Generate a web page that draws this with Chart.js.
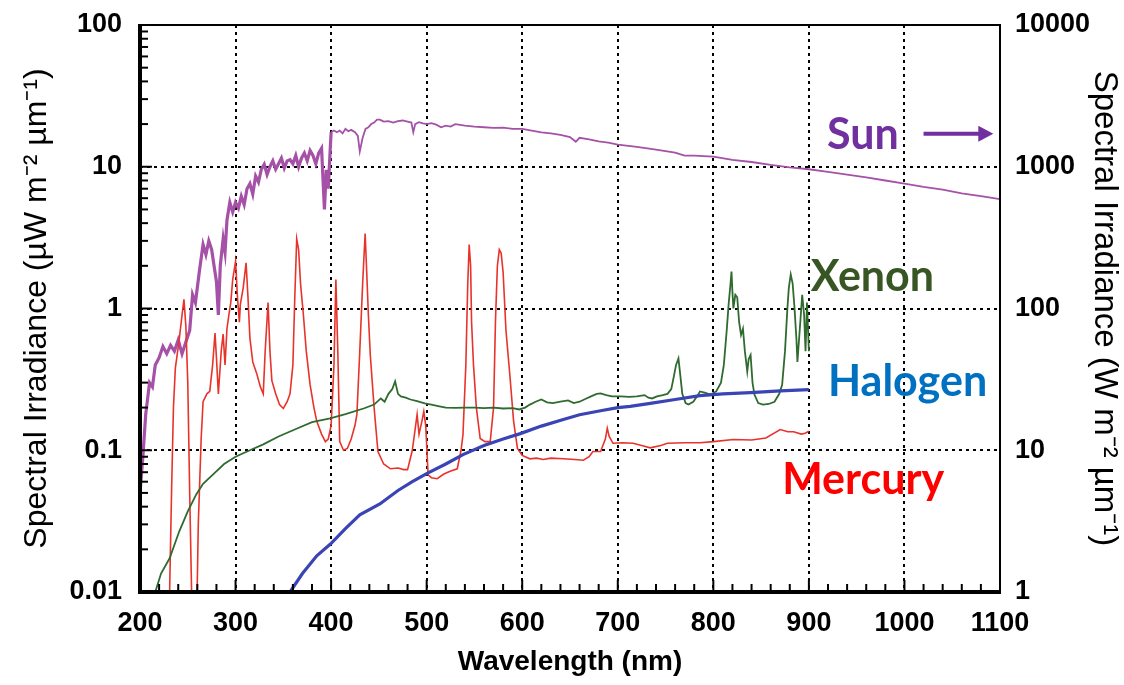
<!DOCTYPE html>
<html>
<head>
<meta charset="UTF-8">
<title>Spectral irradiance</title>
<script src="https://cdn.jsdelivr.net/npm/chart.js@4.4.1/dist/chart.umd.min.js"></script>
<style>
html, body { margin: 0; padding: 0; background: #fff; }
#wrap { width: 1124px; height: 685px; position: relative; }
</style>
</head>
<body>
<div id="wrap"><canvas id="myChart"></canvas></div>
<script>
// axis ticks
const xTickValues = [200, 300, 400, 500, 600, 700, 800, 900, 1000, 1100];
const leftTickValues = [0.01, 0.1, 1, 10, 100];
const leftTickLabels = ['0.01', '0.1', '1', '10', '100'];
const rightTickValues = [1, 10, 100, 1000, 10000];
const rightTickLabels = ['1', '10', '100', '1000', '10000'];

// Sun (right axis, W m-2 um-1)
const sunNm = [200, 203, 206, 210, 213, 216, 220, 224, 228, 232, 236, 240, 244, 248, 252, 255, 258, 262, 266, 269,
  272, 275, 278, 280, 282, 284, 287, 289, 291, 294, 297, 300, 303, 306, 309, 312, 315, 318, 321, 324,
  327, 330, 333, 336, 339, 342, 345, 348, 351, 354, 357, 360, 363, 366, 369, 372, 375, 378, 381, 384,
  387, 390, 393, 395, 397, 399, 400, 403, 406, 409, 412, 415, 418, 421, 425, 428, 430, 433, 436, 439,
  442, 445, 448, 451, 455, 460, 465, 470, 475, 480, 484, 486, 488, 492, 496, 500, 505, 510, 515, 520,
  525, 530, 540, 550, 560, 570, 580, 590, 600, 610, 620, 630, 640, 650, 656, 660, 670, 680, 690, 700,
  720, 740, 760, 770, 780, 800, 820, 840, 860, 880, 900, 920, 940, 960, 980, 1000, 1020, 1040, 1060, 1080, 1100];
const sunVal = [5, 9, 18, 30, 28, 40, 45, 54, 48, 55, 50, 60, 48, 58, 70, 125, 110, 180, 283, 240,
  300, 260, 190, 155, 90, 200, 310, 250, 420, 560, 480, 560, 510, 620, 540, 700, 760, 640, 860, 780,
  960, 1040, 880, 1000, 1100, 960, 1050, 1150, 980, 1100, 1120, 1050, 1200, 1000, 1150, 1250, 1100, 1300, 1200, 1050,
  1250, 1350, 500, 950, 700, 1300, 1750, 1800, 1750, 1800, 1720, 1850, 1780, 1820, 1750, 1650, 1280, 1600, 1850, 1900,
  2000, 2050, 2150, 2150, 2080, 2100, 2050, 2100, 2120, 2080, 2050, 1750, 2000, 2060, 2020, 2000, 2030, 1980, 1900, 1950,
  1920, 2000, 1950, 1920, 1900, 1880, 1890, 1850, 1850, 1800, 1750, 1720, 1680, 1620, 1500, 1600, 1560, 1510, 1480, 1430,
  1380, 1320, 1260, 1200, 1200, 1180, 1120, 1080, 1030, 990, 960, 920, 880, 840, 800, 760, 720, 690, 650, 620, 590];

// Mercury lamp (left axis)
const mercuryNm = [231, 233, 235, 237, 241, 244, 246, 248, 250, 252, 254, 256, 259, 261, 264, 266, 270, 273, 276, 278.5,
  280, 282, 285, 287, 289, 291, 293, 295, 297, 300, 302, 304, 305, 308, 311, 313, 315, 318, 322, 326,
  329, 331, 334, 336, 338, 342, 346, 350, 354, 357, 360, 362, 364, 366, 368, 371, 374, 378, 382, 385,
  390, 394, 397, 400, 403, 405, 407, 409, 413, 417, 421, 425, 427, 430, 433, 435.6, 437, 439, 441, 445,
  449, 455, 462, 470, 476, 480, 485, 490, 492, 495, 497, 499, 501.5, 505, 511, 518, 524.6, 532, 536, 538,
  541, 543, 544.5, 546, 547, 549, 552, 556, 561, 566.5, 570, 572, 574, 576, 578, 580, 583, 587, 591, 595,
  600, 608, 615, 622, 630, 643, 655, 664, 670, 674, 682, 687, 689, 691, 695, 705, 716, 725, 734, 745,
  752, 770, 786, 800, 821, 840, 855, 870, 878, 884, 892, 896, 900];
const mercuryVal = [0.01, 0.05, 0.2, 0.38, 0.6, 0.9, 1.16, 0.75, 0.3, 0.05, 0.01, 0.005, 0.005, 0.03, 0.12, 0.22, 0.25, 0.26, 0.4, 0.67,
  0.45, 0.25, 0.5, 0.66, 0.4, 0.72, 0.9, 1.1, 1.6, 2.15, 1.2, 0.8, 1.07, 1.4, 2.1, 1.2, 0.62, 0.42, 0.35, 0.28,
  0.25, 0.5, 1.1, 0.5, 0.31, 0.25, 0.21, 0.197, 0.22, 0.25, 0.4, 1.2, 3.1, 2.6, 1.5, 0.9, 0.5, 0.29, 0.2, 0.16,
  0.13, 0.115, 0.12, 0.15, 0.4, 1.6, 0.5, 0.115, 0.1, 0.103, 0.12, 0.15, 0.179, 0.5, 1.5, 3.38, 2.0, 0.9, 0.47, 0.2,
  0.098, 0.08, 0.074, 0.075, 0.073, 0.073, 0.1, 0.179, 0.13, 0.16, 0.188, 0.15, 0.067, 0.064, 0.063, 0.068, 0.071, 0.074, 0.1, 0.129,
  0.4, 1.5, 2.83, 2.0, 0.8, 0.4, 0.2, 0.121, 0.115, 0.115, 0.2, 0.81, 2.0, 2.6, 2.45, 1.8, 0.7, 0.342, 0.16, 0.103,
  0.092, 0.087, 0.088, 0.086, 0.088, 0.087, 0.086, 0.085, 0.09, 0.098, 0.098, 0.12, 0.143, 0.125, 0.112, 0.113, 0.112, 0.108, 0.104, 0.108,
  0.112, 0.113, 0.113, 0.115, 0.119, 0.118, 0.122, 0.14, 0.135, 0.135, 0.13, 0.132, 0.136];

// Xenon lamp (left axis)
const xenonNm = [216, 222, 231, 241, 250, 259, 266, 276, 288, 300, 315, 329, 345, 365, 380, 399, 415, 434, 445, 452,
  456, 460, 464, 467, 470, 473, 478, 483, 490, 498, 505, 512, 520, 530, 540, 550, 560, 570, 580, 590,
  597, 603, 608, 614, 620, 626, 632, 640, 648, 654, 660, 666, 672, 678, 682, 688, 694, 703, 712, 720,
  728, 732, 736, 741, 747, 752, 756, 759, 761, 763.5, 765, 767.5, 771, 774, 779, 783, 786, 791, 797, 803,
  808, 811, 814, 816, 818, 819, 820, 821, 823, 825, 827, 829, 831, 833, 835.5, 837, 839, 841, 843, 847,
  852, 858, 864, 869, 872, 875, 877.5, 879, 881, 883, 885, 887, 888, 891, 893, 895, 896.5, 898, 900];
const xenonVal = [0.01, 0.0135, 0.0173, 0.0267, 0.037, 0.049, 0.058, 0.067, 0.08, 0.09, 0.1, 0.11, 0.125, 0.143, 0.158, 0.168, 0.18, 0.197, 0.21, 0.232,
  0.22, 0.25, 0.27, 0.306, 0.25, 0.24, 0.235, 0.228, 0.222, 0.214, 0.21, 0.205, 0.2, 0.199, 0.2, 0.2, 0.198, 0.2, 0.197, 0.198,
  0.194, 0.2, 0.21, 0.22, 0.228, 0.218, 0.215, 0.22, 0.225, 0.215, 0.22, 0.23, 0.24, 0.25, 0.252, 0.245, 0.24, 0.24, 0.238, 0.24,
  0.245, 0.235, 0.232, 0.24, 0.245, 0.25, 0.27, 0.34, 0.4, 0.444, 0.36, 0.25, 0.215, 0.21, 0.22, 0.24, 0.26, 0.255, 0.247, 0.26,
  0.3, 0.4, 0.7, 1.07, 1.5, 1.82, 1.3, 1.0, 1.25, 1.2, 0.8, 0.65, 0.72, 0.5, 0.36, 0.44, 0.47, 0.3, 0.247, 0.215,
  0.21, 0.212, 0.22, 0.25, 0.29, 0.5, 1.0, 1.4, 1.74, 1.5, 1.0, 0.6, 0.42, 0.8, 1.25, 0.9, 0.5, 1.1, 0.5];

// Halogen lamp (left axis)
const halogenNm = [357, 370, 385, 399, 415, 430, 451, 470, 485, 500, 520, 538, 560, 580, 598, 620, 643, 660, 682, 700,
  713, 734, 760, 786, 810, 839, 870, 900];
const halogenVal = [0.01, 0.0135, 0.018, 0.0217, 0.028, 0.035, 0.0418, 0.052, 0.06, 0.0685, 0.08, 0.0932, 0.108, 0.12, 0.131, 0.148, 0.165, 0.178, 0.19, 0.2,
  0.204, 0.214, 0.228, 0.243, 0.25, 0.255, 0.262, 0.268];

// text labels on the plot (nm, left-axis value at baseline)
const labelText = ['Sun', 'Xenon', 'Halogen', 'Mercury'];
const labelNm = [919, 902, 920, 872];
const labelVal = [13.4, 1.32, 0.24, 0.0488];
const labelColor = ['#7030a0', '#375623', '#0070c0', '#ff0000'];

function toPoints(xs, ys) {
    return xs.map((x, i) => ({ x: x, y: ys[i] }));
}

const tickFont = { family: '"Liberation Sans", Arial, sans-serif', size: 27, weight: 'bold' };

// no extra room for half tick labels, the box sizes are fixed
function fixWidth(w) {
    return s => { s.width = w; s.paddingTop = 0; s.paddingBottom = 0; };
}

// frame, inner minor ticks, text labels and the Sun arrow
const decorPlugin = {
    id: 'decor',
    afterDraw(chart) {
        const ctx = chart.ctx;
        const a = chart.chartArea;
        const xs = chart.scales.x;
        const ys = chart.scales.y;
        ctx.save();
        ctx.strokeStyle = '#000';
        // minor ticks left axis
        ctx.lineWidth = 2;
        for (let d = -2; d < 2; d++) {
            for (let k = 1; k <= 9; k++) {
                const py = ys.getPixelForValue(k * Math.pow(10, d));
                const len = k === 1 ? 12 : 8;
                ctx.beginPath();
                ctx.moveTo(a.left, py);
                ctx.lineTo(a.left + len, py);
                ctx.stroke();
            }
        }
        // minor ticks bottom axis
        for (let nm = 200; nm <= 1100; nm += 20) {
            const px = xs.getPixelForValue(nm);
            const len = nm % 100 === 0 ? 12 : 8;
            ctx.beginPath();
            ctx.moveTo(px, a.bottom);
            ctx.lineTo(px, a.bottom - len);
            ctx.stroke();
        }
        // frame
        ctx.lineWidth = 2;
        ctx.beginPath();
        ctx.moveTo(a.left, a.top);
        ctx.lineTo(a.right, a.top);
        ctx.lineTo(a.right, a.bottom);
        ctx.stroke();
        ctx.lineWidth = 4;
        ctx.beginPath();
        ctx.moveTo(a.left, a.top - 1);
        ctx.lineTo(a.left, a.bottom);
        ctx.lineTo(a.right + 1, a.bottom);
        ctx.stroke();

        // labels
        ctx.font = 'bold 43px Lato, "Open Sans", sans-serif';
        ctx.textBaseline = 'alphabetic';
        ctx.textAlign = 'left';
        labelText.forEach((t, i) => {
            ctx.fillStyle = labelColor[i];
            ctx.fillText(t, xs.getPixelForValue(labelNm[i]), ys.getPixelForValue(labelVal[i]));
        });
        // arrow next to Sun
        const ay = ys.getPixelForValue(17.1);
        const ax0 = xs.getPixelForValue(1020);
        const ax1 = xs.getPixelForValue(1093);
        ctx.strokeStyle = '#7030a0';
        ctx.fillStyle = '#7030a0';
        ctx.lineWidth = 4;
        ctx.beginPath();
        ctx.moveTo(ax0, ay);
        ctx.lineTo(ax1 - 12, ay);
        ctx.stroke();
        ctx.beginPath();
        ctx.moveTo(ax1, ay);
        ctx.lineTo(ax1 - 15, ay - 8);
        ctx.lineTo(ax1 - 15, ay + 8);
        ctx.closePath();
        ctx.fill();
        ctx.restore();
    }
};

const canvas = document.getElementById('myChart');
const myChart = new Chart(canvas, {
    type: 'line',
    data: {
        datasets: [
            { label: 'Halogen', data: toPoints(halogenNm, halogenVal), borderColor: '#3a44b4', borderWidth: 3.2, yAxisID: 'y', order: 1 },
            { label: 'Xenon', data: toPoints(xenonNm, xenonVal), borderColor: '#2f6a2f', borderWidth: 1.8, yAxisID: 'y', order: 2 },
            { label: 'Mercury', data: toPoints(mercuryNm, mercuryVal), borderColor: '#e8332b', borderWidth: 1.6, yAxisID: 'y', order: 3 },
            {
                label: 'Sun', data: toPoints(sunNm, sunVal), borderColor: '#a551a8', borderWidth: 1.8, yAxisID: 'y2', order: 4,
                segment: { borderWidth: c => (c.p0.parsed.x < 400 ? 3.2 : 1.8) }
            }
        ]
    },
    options: {
        responsive: true,
        maintainAspectRatio: false,
        animation: false,
        layout: { padding: { top: 25, left: 0, right: 0, bottom: 0 } },
        elements: { point: { radius: 0 }, line: { tension: 0 } },
        plugins: { legend: { display: false }, tooltip: { enabled: false } },
        scales: {
            x: {
                type: 'linear',
                min: 200,
                max: 1100,
                afterFit: s => { s.height = 93; s.paddingLeft = 0; s.paddingRight = 0; },
                afterBuildTicks: s => { s.ticks = xTickValues.map(v => ({ value: v })); },
                ticks: { color: '#000', font: tickFont, padding: 15, maxRotation: 0, autoSkip: false, callback: v => String(v) },
                grid: { color: '#000', lineWidth: 2, drawTicks: false },
                border: { display: false, dash: [3, 4] },
                title: {
                    display: true, text: 'Wavelength (nm)', color: '#000',
                    font: { family: '"Liberation Sans", Arial, sans-serif', size: 28, weight: 'bold' },
                    padding: { top: 0, bottom: 6 }
                }
            },
            y: {
                type: 'logarithmic',
                position: 'left',
                min: 0.01,
                max: 100,
                afterFit: fixWidth(140),
                afterBuildTicks: s => { s.ticks = leftTickValues.map(v => ({ value: v })); },
                ticks: { color: '#000', font: tickFont, padding: 18, autoSkip: false, callback: (v, i) => leftTickLabels[i] },
                grid: { color: '#000', lineWidth: 2, drawTicks: false },
                border: { display: false, dash: [3, 4] },
                title: {
                    display: true, text: 'Spectral Irradiance (\u00b5W m\u207b\u00b2 \u00b5m\u207b\u00b9)', color: '#000',
                    font: { family: '"Liberation Sans", Arial, sans-serif', size: 32 },
                    padding: { top: 18, bottom: 0 }
                }
            },
            y2: {
                type: 'logarithmic',
                position: 'right',
                min: 1,
                max: 10000,
                afterFit: fixWidth(124),
                afterBuildTicks: s => { s.ticks = rightTickValues.map(v => ({ value: v })); },
                ticks: { color: '#000', font: tickFont, padding: 15, autoSkip: false, callback: (v, i) => rightTickLabels[i] },
                grid: { drawOnChartArea: false, drawTicks: false },
                border: { display: false },
                title: {
                    display: true, text: 'Spectral Irradiance (W m\u207b\u00b2 \u00b5m\u207b\u00b9)', color: '#000',
                    font: { family: '"Liberation Sans", Arial, sans-serif', size: 33 },
                    padding: { top: 0, bottom: 2 }
                }
            }
        }
    },
    plugins: [decorPlugin]
});
</script>
</body>
</html>
